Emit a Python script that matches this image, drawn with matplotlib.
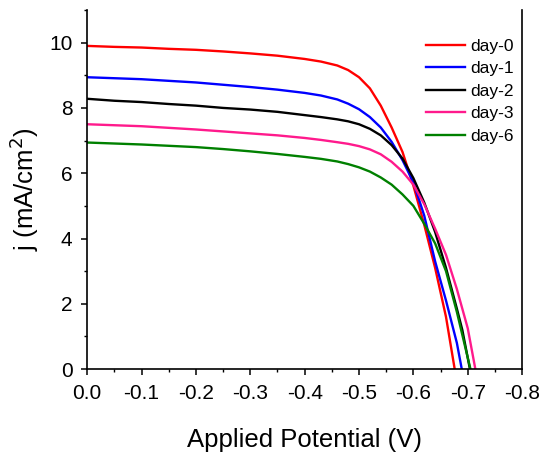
import matplotlib
matplotlib.use("Agg")
import matplotlib.pyplot as plt
from matplotlib.ticker import MultipleLocator, FormatStrFormatter

plt.rcParams['font.family'] = ['Liberation Sans', 'DejaVu Sans']
plt.rcParams['axes.unicode_minus'] = False

# J-V curves (V in volts, j in mA/cm2)
v_day0 = [0, -0.05, -0.1, -0.15, -0.2, -0.25, -0.3, -0.35, -0.4, -0.43, -0.46, -0.48,
          -0.5, -0.52, -0.54, -0.56, -0.58, -0.6, -0.62, -0.64, -0.66, -0.676]
j_day0 = [9.90, 9.87, 9.85, 9.81, 9.78, 9.73, 9.67, 9.60, 9.50, 9.42, 9.30, 9.16,
          8.94, 8.60, 8.07, 7.40, 6.65, 5.62, 4.42, 3.10, 1.60, 0.0]

v_day1 = [0, -0.05, -0.1, -0.15, -0.2, -0.25, -0.3, -0.35, -0.4, -0.43, -0.46, -0.48,
          -0.5, -0.52, -0.54, -0.56, -0.58, -0.6, -0.62, -0.64, -0.66, -0.68, -0.689]
j_day1 = [8.94, 8.91, 8.88, 8.83, 8.78, 8.71, 8.64, 8.56, 8.46, 8.38, 8.26, 8.13,
          7.96, 7.72, 7.40, 6.96, 6.40, 5.72, 4.70, 3.30, 2.10, 0.80, 0.0]

v_day2 = [0, -0.05, -0.1, -0.15, -0.2, -0.25, -0.3, -0.35, -0.4, -0.43, -0.46, -0.48,
          -0.5, -0.52, -0.54, -0.56, -0.58, -0.6, -0.62, -0.64, -0.66, -0.68, -0.69, -0.704]
j_day2 = [8.28, 8.22, 8.18, 8.12, 8.07, 8.00, 7.95, 7.88, 7.78, 7.72, 7.65, 7.59,
          7.50, 7.36, 7.16, 6.86, 6.45, 5.85, 5.10, 4.20, 3.10, 1.85, 1.20, 0.0]

v_day3 = [0, -0.05, -0.1, -0.15, -0.2, -0.25, -0.3, -0.35, -0.4, -0.43, -0.46, -0.48,
          -0.5, -0.52, -0.54, -0.56, -0.58, -0.6, -0.62, -0.64, -0.66, -0.68, -0.7, -0.714]
j_day3 = [7.50, 7.47, 7.44, 7.39, 7.34, 7.28, 7.22, 7.16, 7.08, 7.02, 6.95, 6.90,
          6.83, 6.73, 6.58, 6.35, 6.05, 5.65, 5.05, 4.30, 3.50, 2.45, 1.25, 0.0]

v_day6 = [0, -0.05, -0.1, -0.15, -0.2, -0.25, -0.3, -0.35, -0.4, -0.43, -0.46, -0.48,
          -0.5, -0.52, -0.54, -0.56, -0.58, -0.6, -0.62, -0.64, -0.66, -0.68, -0.7, -0.705]
j_day6 = [6.94, 6.91, 6.88, 6.84, 6.80, 6.74, 6.67, 6.59, 6.50, 6.44, 6.36, 6.28,
          6.18, 6.05, 5.87, 5.65, 5.35, 5.00, 4.45, 3.85, 3.00, 1.75, 0.35, 0.0]

labels = ['day-0', 'day-1', 'day-2', 'day-3', 'day-6']
colors = ['#ff0000', '#0000ff', '#000000', '#ff1a8c', '#008000']
curves = [(v_day0, j_day0), (v_day1, j_day1), (v_day2, j_day2),
          (v_day3, j_day3), (v_day6, j_day6)]

fig = plt.figure(figsize=(5.45, 4.54), dpi=100)
ax = fig.add_axes([0.16, 0.187, 0.798, 0.791])

for (v, j), lab, c in zip(curves, labels, colors):
    ax.plot(v, j, color=c, lw=1.7, label=lab)

ax.set_xlim(0, -0.8)
ax.set_ylim(0, 11)

ax.xaxis.set_major_locator(MultipleLocator(0.1))
ax.xaxis.set_minor_locator(MultipleLocator(0.05))
ax.xaxis.set_major_formatter(FormatStrFormatter('%.1f'))
ax.yaxis.set_major_locator(MultipleLocator(2))
ax.yaxis.set_minor_locator(MultipleLocator(1))

ax.spines['top'].set_visible(False)
for s in ['left', 'bottom', 'right']:
    ax.spines[s].set_linewidth(1.2)
ax.tick_params(which='major', direction='out', length=4.5, width=1.1,
               labelsize=15, pad=6, top=False, right=False)
ax.tick_params(which='minor', direction='out', length=2.5, width=1.0,
               top=False, right=False)

ax.set_xlabel('Applied Potential (V)', fontsize=18.5, labelpad=18)
ax.set_ylabel('j (mA/cm$^2$)', fontsize=18.5, labelpad=6)

ax.legend(loc='upper left', bbox_to_anchor=(0.78, 0.92), frameon=False,
          fontsize=12.5, handlelength=2.2, handletextpad=0.3,
          labelspacing=0.42, borderpad=0, borderaxespad=0)

fig.savefig('out.png', dpi=100)
